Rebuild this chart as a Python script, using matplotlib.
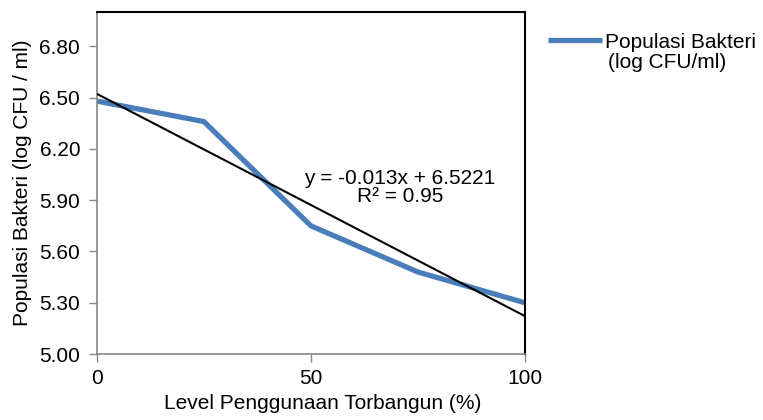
import matplotlib
matplotlib.use("Agg")
import matplotlib.pyplot as plt
import numpy as np

plt.rcParams['font.family'] = ['Liberation Sans', 'DejaVu Sans']

levels = [0, 25, 50, 75, 100]
populasi = [6.48, 6.36, 5.75, 5.48, 5.30]
slope = -0.013
intercept = 6.5221
r2_text = "R² = 0.95"
eq_text = "y = -0.013x + 6.5221"
y_ticks = [5.00, 5.30, 5.60, 5.90, 6.20, 6.50, 6.80]
x_ticks = [0, 50, 100]
series_name = "Populasi Bakteri"
series_unit = "(log CFU/ml)"

FS = 15

fig = plt.figure(figsize=(7.63, 4.20), dpi=100)
ax = fig.add_axes([0.127, 0.157, 0.561, 0.814])

ax.plot(levels, populasi, color='#4A7EBB', lw=3.8, solid_capstyle='butt',
        label=series_name, zorder=2)
xt = np.array([levels[0], levels[-1]])
ax.plot(xt, slope * xt + intercept, color='black', lw=1.5, zorder=3)

ax.set_xlim(0, 100)
ax.set_ylim(5.0, 7.0)
ax.set_yticks(y_ticks)
ax.set_yticklabels([f"{v:.2f}" for v in y_ticks])
ax.set_xticks(x_ticks)
ax.tick_params(axis='both', labelsize=FS, direction='out', length=6, color='#888888', width=1)
ax.tick_params(axis='x', pad=5)
ax.tick_params(axis='y', pad=6)

for s in ['left', 'bottom']:
    ax.spines[s].set_color('#888888')
    ax.spines[s].set_linewidth(1.2)
for s in ['top', 'right']:
    ax.spines[s].set_color('black')
    ax.spines[s].set_linewidth(1.5)

ax.set_xlabel('Level Penggunaan Torbangun (%)', fontsize=FS)
ax.xaxis.set_label_coords(0.528, -0.118)
ax.set_ylabel('Populasi Bakteri (log CFU / ml)', fontsize=FS, labelpad=5)

ax.text(70.8, 5.973, eq_text + "\n" + r2_text, ha='center', va='center', fontsize=FS,
        linespacing=0.95)

leg = fig.legend(loc='upper left', bbox_to_anchor=(0.718, 0.922), frameon=False,
                 fontsize=FS, handlelength=2.6, handletextpad=0.15, borderaxespad=0,
                 borderpad=0)
fig.text(0.797, 0.850, series_unit, fontsize=FS, ha='left', va='center')

fig.savefig('out.png', dpi=100)
